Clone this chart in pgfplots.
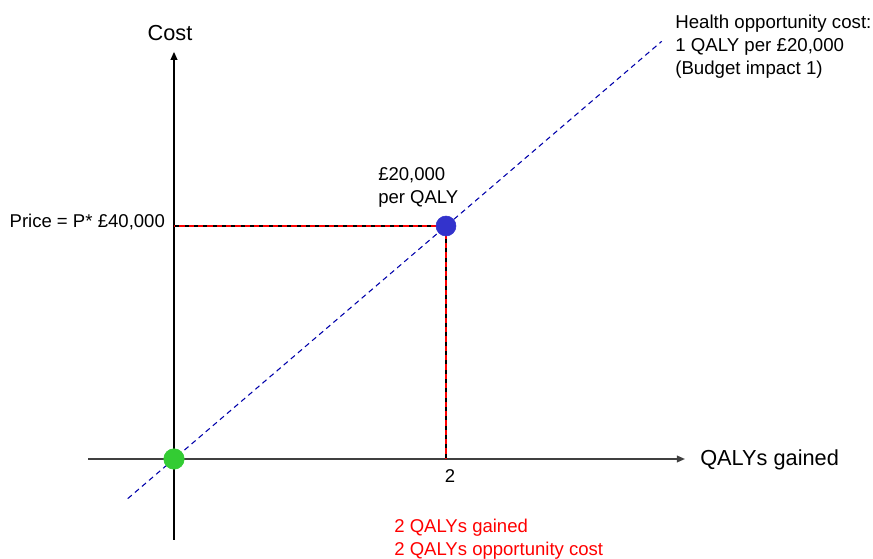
\documentclass[border=0pt]{standalone}
\usepackage{pgfplots}
\pgfplotsset{compat=1.18}
\usepackage{fontspec}
\setmainfont{Liberation Sans}
\usetikzlibrary{arrows.meta}
\definecolor{ptblue}{HTML}{3333CC}
\definecolor{ptgreen}{HTML}{33CC33}
\definecolor{lineblue}{HTML}{0000AA}
\begin{document}
\fontsize{13.9}{17.25}\selectfont
\begin{tikzpicture}
\begin{axis}[
  x=102pt, y=4.36875pt,
  axis lines=middle,
  xmin=-0.632, xmax=3.757,
  ymin=-13.9, ymax=69.9,
  clip=false,
  axis line style={line width=1.1pt, -{Triangle[length=6pt,width=5pt]}},
  x axis line style={black!75},
  xtick={2}, xticklabels={2},
  ytick={40}, yticklabel={Price = P*\hspace{4pt}£40{,}000},
  major tick length=0pt,
  xticklabel style={font=\fontsize{13.9}{17.25}\selectfont, anchor=north, yshift=-3pt, xshift=3pt},
  yticklabel style={font=\fontsize{13.9}{17.25}\selectfont, anchor=east, xshift=-2pt, yshift=3pt},
]
\coordinate (bbSW) at (axis cs:-1.2794,-17.167);
\coordinate (bbNE) at (axis cs:5.1397,78.798);
% opportunity cost line
\addplot[lineblue, line width=0.8pt, dash pattern=on 4pt off 3pt] coordinates {(-0.340,-6.8) (3.586,71.7)};
% price dashed lines
\addplot[black, line width=1pt, dash pattern=on 4pt off 3pt] coordinates {(0,40) (2,40)};
\addplot[red, line width=1pt, dash pattern=on 4pt off 3pt, dash phase=3pt] coordinates {(0,40) (2,40)};
\addplot[black, line width=1pt, dash pattern=on 4pt off 3pt] coordinates {(2,0) (2,40)};
\addplot[red, line width=1pt, dash pattern=on 4pt off 3pt, dash phase=3pt] coordinates {(2,0) (2,40)};
% points
\addplot[only marks, mark=*, mark size=7.5pt, mark options={fill=ptblue, draw=ptblue}] coordinates {(2,40)};
\addplot[only marks, mark=*, mark size=7.7pt, mark options={fill=ptgreen, draw=ptgreen}] coordinates {(0,0)};
% labels
\node[anchor=center, font=\fontsize{16.3}{19}\selectfont] at (axis cs:-0.029,73.13) {Cost};
\node[anchor=west, inner sep=0pt, font=\fontsize{16.3}{19}\selectfont] at (axis cs:3.868,-0.17) {QALYs gained};
\node[anchor=west, align=left, inner sep=0pt] at (axis cs:1.5,46.69) {£20,000\\per QALY};
\node[anchor=west, align=left, inner sep=0pt, font=\fontsize{14.0}{17.25}\selectfont] at (axis cs:3.684,70.8) {Health opportunity cost:\\1 QALY per £20,000\\(Budget impact 1)};
\node[anchor=west, align=left, inner sep=0pt, text=red] at (axis cs:1.618,-13.8) {2 QALYs gained\\2 QALYs opportunity cost};
\end{axis}
\pgfresetboundingbox
\path (bbSW) rectangle (bbNE);
\end{tikzpicture}
\end{document}
